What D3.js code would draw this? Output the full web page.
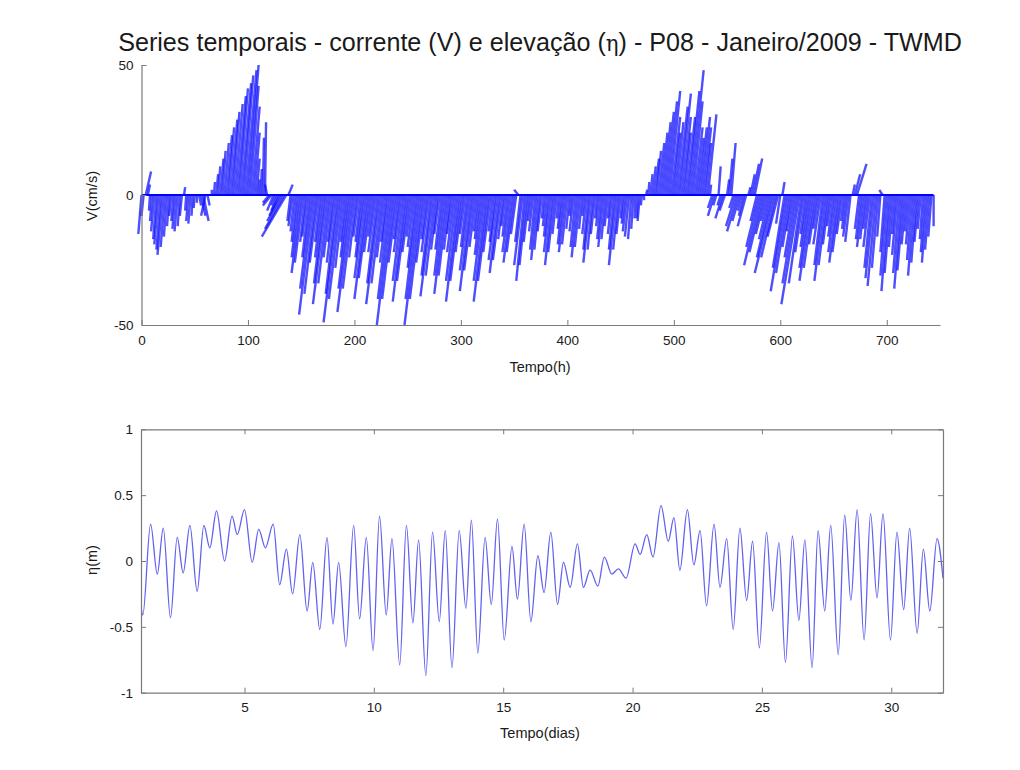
<!DOCTYPE html>
<html><head><meta charset="utf-8">
<script src="https://cdn.jsdelivr.net/npm/d3@7"></script>
<style>
body{margin:0;background:#fff;}
svg{display:block;}
text{font-family:"Liberation Sans",Arial,Helvetica,sans-serif;fill:#1a1a1a;}
</style>
</head><body>
<svg id="chart" width="1020" height="770"></svg>
<script>
// ---------- DATA ----------
const titleText = ["Series temporais - corrente (V) e elevação (", "η", ") - P08 - Janeiro/2009 - TWMD"];
const featherStartHour = 0;
const featherStepHours = 2;
// along-axis component (cm/s), one vector every 2 h from hour 0 to 744
const featherV = [
 -15,-8,9,4,-6,-10,-14,-17,-19,-21,
 -23,-20,-16,-12,-8,-10,-13,-14,-12,-8,
 3,-6,-10,-11,-8,-5,-3,-4,-8,-10,
 -8,-4,0,2,5,8,11,14,17,20,
 23,26,29,32,35,38,41,43,46,48,
 50,42,34,24,14,6,10,22,28,4,
 -3,-4,-6,-4,-6,-8,-10,-13,-16,4,
 -10,-12,-14,-18,-24,-30,-26,-18,-16,-24,
 -36,-46,-38,-26,-18,-24,-34,-42,-34,-24,
 -18,-26,-38,-49,-40,-28,-18,-24,-36,-45,
 -36,-24,-16,-18,-24,-32,-40,-32,-22,-16,
 -22,-34,-42,-34,-24,-18,-26,-40,-50,-40,
 -26,-17,-22,-33,-41,-33,-22,-16,-20,-28,
 -40,-50,-40,-26,-17,-22,-31,-39,-31,-21,
 -15,-21,-31,-38,-31,-21,-15,-22,-33,-41,
 -33,-22,-15,-20,-29,-37,-29,-20,-14,-17,
 -23,-33,-41,-33,-22,-14,-18,-25,-30,-25,
 -17,-12,-16,-22,-26,-22,-15,2,-18,-27,
 -33,-27,-18,-10,-14,-21,-25,-21,-14,-9,
 -12,-16,-22,-27,-22,-15,-9,-13,-19,-22,
 -19,-13,-8,-14,-20,-24,-20,-13,-8,-15,
 -21,-26,-21,-15,-9,-12,-17,-20,-17,-12,
 -9,-15,-21,-27,-21,-15,-9,-11,-14,-16,
 -17,-13,-9,-9,-10,-4,-2,2,5,8,
 11,14,17,20,24,28,32,36,40,30,
 24,28,34,39,30,24,30,40,48,36,
 26,22,26,30,26,20,31,4,-5,-8,
 -4,11,-4,-9,-6,6,14,20,-5,-12,
 -14,-10,-6,-8,-12,3,8,12,14,-10,
 -20,-27,-22,-15,-10,-17,-24,-30,-24,-16,
 -11,5,-28,-37,-30,-20,-14,-24,-34,-42,
 -34,-22,-15,-20,-28,-33,-28,-19,-13,-19,
 -27,-33,-27,-19,-12,-16,-22,-26,-22,-15,
 -10,-13,-16,-18,4,8,12,-13,-17,-20,
 -17,-13,-20,-28,-32,-35,-28,-16,2,-22,
 -31,-37,-30,-20,-15,-23,-30,-36,-29,-19,
 -14,-19,-25,-31,-26,-18,-13,-17,-22,-26,
 -21,-16,-12
];
// cross-axis component (cm/s) for the same vectors
const featherU = [
 -3,-2,5,2,-1,-2,-3,-3,-4,-4,
 -5,-4,-3,-2,-2,-2,-3,-3,-2,-2,
 1,-1,-2,-2,-1,-1,0,2,4,5,
 -4,2,0,0,1,2,2,3,3,4,
 5,5,6,6,7,8,8,9,9,10,
 10,8,7,5,3,1,1,1,1,-2,
 -6,-8,-6,-4,-6,-10,-14,-18,-23,4,
 -3,-4,-4,-5,-7,-9,-8,-5,-5,-7,
 -11,-14,-11,-8,-5,-7,-10,-13,-10,-7,
 -5,-8,-11,-15,-12,-8,-5,-7,-11,-14,
 -11,-7,-5,-5,-7,-10,-12,-10,-7,-5,
 -7,-10,-13,-10,-7,-5,-8,-12,-15,-12,
 -8,-5,-7,-10,-12,-10,-7,-5,-6,-8,
 -12,-15,-12,-8,-5,-7,-9,-12,-9,-6,
 -5,-6,-9,-11,-9,-6,-5,-7,-10,-12,
 -10,-7,-5,-6,-9,-11,-9,-6,-4,-5,
 -7,-10,-12,-10,-7,-4,-5,-8,-9,-8,
 -5,-4,-5,-7,-8,-7,-5,-4,-5,-8,
 -8,-7,-5,-3,-4,-5,-6,-5,-4,-2,
 -3,-4,-6,-7,-6,-4,-2,-3,-5,-6,
 -5,-3,-2,-4,-5,-6,-5,-3,-2,-4,
 -5,-7,-5,-4,-2,-3,-4,-5,-4,-3,
 -2,-4,-5,-7,-5,-4,-2,-3,-4,-4,
 -3,-2,-1,-1,-2,-1,0,1,1,2,
 3,4,4,5,6,7,8,9,10,8,
 6,7,9,10,8,6,8,10,12,9,
 7,6,7,8,7,5,8,1,-4,-6,
 -3,2,-3,-7,-5,2,3,4,-4,-9,
 -10,-7,-4,-5,-8,2,4,6,7,-6,
 -12,-16,-13,-9,-6,-10,-14,-18,-14,-10,
 -4,2,-11,-15,-12,-8,-6,-10,-14,-17,
 -12,-8,-5,-7,-10,-12,-10,-7,-5,-7,
 -8,-10,-8,-6,-4,-5,-7,-8,-7,-5,
 -3,-4,-5,-5,2,5,9,-4,-5,-6,
 -5,-4,-6,-7,-8,-8,-6,-3,-3,-4,
 -6,-7,-6,-4,-3,-5,-6,-7,-6,-4,
 -3,-4,-5,-6,-5,-4,-3,-3,-4,-5,
 -4,-3,0
];
const hourTicks = [0,100,200,300,400,500,600,700];
const vTicks = [-50,0,50];
const vTickLabels = ["-50","0","50"];

// surface elevation: turning points (day, metres)
const etaDays = [1.00,1.07,1.37,1.63,1.86,2.14,2.40,2.63,2.89,3.17,3.43,3.66,3.92,4.23,4.52,4.72,5.00,5.30,5.55,5.81,
 6.11,6.36,6.62,6.86,7.14,7.42,7.64,7.91,8.19,8.42,8.64,8.92,9.22,9.45,9.71,9.97,10.22,10.48,10.70,11.00,
 11.26,11.51,11.73,12.01,12.27,12.53,12.76,13.02,13.30,13.56,13.77,14.02,14.30,14.54,14.78,15.04,15.34,15.55,15.81,16.07,
 16.34,16.58,16.84,17.10,17.33,17.59,17.87,18.10,18.36,18.66,18.91,19.20,19.45,19.75,20.10,20.29,20.55,20.79,21.10,21.38,
 21.60,21.83,22.12,22.37,22.61,22.86,23.15,23.38,23.64,23.89,24.15,24.41,24.64,24.90,25.18,25.41,25.66,25.91,26.18,26.43,
 26.66,26.94,27.17,27.43,27.66,27.95,28.20,28.44,28.68,28.95,29.20,29.45,29.68,29.97,30.22,30.48,30.71,31.00,31.24,31.49,
 31.77,32.00];
const etaValues = [-0.35,-0.41,0.28,-0.10,0.25,-0.43,0.18,-0.09,0.27,-0.23,0.27,0.10,0.38,0.00,0.34,0.20,0.39,-0.01,0.24,0.10,
 0.28,-0.18,0.09,-0.25,0.20,-0.38,-0.01,-0.52,0.18,-0.48,-0.01,-0.65,0.27,-0.44,0.18,-0.68,0.34,-0.41,0.17,-0.79,
 0.27,-0.47,0.16,-0.87,0.22,-0.46,0.23,-0.81,0.23,-0.36,0.31,-0.70,0.18,-0.33,0.32,-0.60,0.11,-0.29,0.28,-0.46,
 0.04,-0.24,0.22,-0.33,-0.01,-0.20,0.13,-0.20,-0.07,-0.19,0.03,-0.10,-0.06,-0.13,0.13,0.05,0.20,0.03,0.42,0.15,
 0.33,-0.07,0.39,-0.03,0.23,-0.34,0.28,-0.20,0.17,-0.52,0.25,-0.30,0.15,-0.66,0.22,-0.38,0.14,-0.77,0.19,-0.45,
 0.16,-0.81,0.23,-0.38,0.27,-0.71,0.35,-0.30,0.39,-0.60,0.36,-0.28,0.36,-0.60,0.22,-0.37,0.25,-0.55,0.09,-0.38,
 0.17,-0.13];
const dayTicks = [5,10,15,20,25,30];
const etaTicks = [-1,-0.5,0,0.5,1];
const etaTickLabels = ["-1","-0.5","0","0.5","1"];

// ---------- DRAW ----------
const svg = d3.select("#chart");
svg.append("rect").attr("width",1020).attr("height",770).attr("fill","#fff");
const AX = "#7a7a7a";

function styleAxis(g){
  g.selectAll(".domain").attr("stroke",AX).attr("stroke-width",1.2);
  g.selectAll(".tick line").attr("stroke",AX).attr("stroke-width",1);
  g.selectAll(".tick text").attr("fill","#1a1a1a").style("font-size","13.5px")
    .style("font-family","'Liberation Sans',Arial,sans-serif");
}

// Title
const title = svg.append("text").attr("x",540).attr("y",51).attr("text-anchor","middle")
  .style("font-size","20px");
title.append("tspan").text(titleText[0]);
title.append("tspan").style("font-family","'DejaVu Serif','Liberation Serif',serif").style("font-size","17px").text(titleText[1]);
title.append("tspan").text(titleText[2]);
const tw = title.node().getComputedTextLength();
const targetW = 844;
title.style("font-size", (20*targetW/tw).toFixed(2)+"px");
title.select("tspan:nth-child(2)").style("font-size",(17*targetW/tw).toFixed(2)+"px");

// ---- Top panel: feather (stick) plot ----
const xH = d3.scaleLinear().domain([0,750]).range([141.5,940]);
const yV = d3.scaleLinear().domain([-50,50]).range([325,65]);

const feathers = featherV.map((v,i)=>({t: featherStartHour + i*featherStepHours, u: featherU[i], v}));
const fg = svg.append("g");
fg.selectAll("line.f").data(feathers).join("line").attr("class","f")
  .attr("x1", d=>xH(d.t)).attr("y1", yV(0))
  .attr("x2", d=>xH(d.t+d.u)).attr("y2", d=>yV(d.v))
  .attr("stroke","#0a0aff").attr("stroke-width",2.4).attr("stroke-opacity",0.72)
  .attr("stroke-linecap","butt");
fg.append("line").attr("x1",xH(0)).attr("x2",xH(featherStartHour+(featherV.length-1)*featherStepHours))
  .attr("y1",yV(0)).attr("y2",yV(0)).attr("stroke","#0000ff").attr("stroke-width",1.8);

const gxTop = svg.append("g").attr("transform",`translate(0,${yV(-50)})`)
  .call(d3.axisBottom(xH).tickValues(hourTicks).tickFormat(d3.format("d")).tickSizeInner(-5).tickSizeOuter(0).tickPadding(10));
styleAxis(gxTop);
const gyTop = svg.append("g").attr("transform",`translate(${xH(0)},0)`)
  .call(d3.axisLeft(yV).tickValues(vTicks).tickFormat((d,i)=>vTickLabels[i]).tickSizeInner(-5).tickSizeOuter(0).tickPadding(8));
styleAxis(gyTop);

svg.append("text").attr("x",540).attr("y",372).attr("text-anchor","middle").style("font-size","14.5px").text("Tempo(h)");
svg.append("text").attr("transform",`translate(97,196) rotate(-90)`).attr("text-anchor","middle").style("font-size","14.5px").text("V(cm/s)");

// ---- Bottom panel: elevation ----
const xD = d3.scaleLinear().domain([1,32]).range([141,943]);
const yE = d3.scaleLinear().domain([-1,1]).range([692.7,429.3]);

svg.append("defs").append("clipPath").attr("id","clipE").append("rect")
  .attr("x",xD(1)).attr("y",yE(1)).attr("width",xD(32)-xD(1)).attr("height",yE(-1)-yE(1));

const etaPts = etaDays.map((d,i)=>[d, etaValues[i]]);
svg.append("path").datum(etaPts)
  .attr("clip-path","url(#clipE)")
  .attr("d", d3.line().x(d=>xD(d[0])).y(d=>yE(d[1])).curve(d3.curveMonotoneX))
  .attr("fill","none").attr("stroke","#6262f0").attr("stroke-width",1.3);

const gxB = svg.append("g").attr("transform",`translate(0,${yE(-1)})`)
  .call(d3.axisBottom(xD).tickValues(dayTicks).tickFormat(d3.format("d")).tickSizeInner(-5).tickSizeOuter(0).tickPadding(10));
styleAxis(gxB);
const gxT = svg.append("g").attr("transform",`translate(0,${yE(1)})`)
  .call(d3.axisTop(xD).tickValues(dayTicks).tickFormat("").tickSizeInner(-5).tickSizeOuter(0));
styleAxis(gxT);
const gyL = svg.append("g").attr("transform",`translate(${xD(1)},0)`)
  .call(d3.axisLeft(yE).tickValues(etaTicks).tickFormat((d,i)=>etaTickLabels[i]).tickSizeInner(-5).tickSizeOuter(0).tickPadding(8));
styleAxis(gyL);
const gyR = svg.append("g").attr("transform",`translate(${xD(32)},0)`)
  .call(d3.axisRight(yE).tickValues(etaTicks).tickFormat("").tickSizeInner(-5).tickSizeOuter(0));
styleAxis(gyR);

svg.append("text").attr("x",540).attr("y",738).attr("text-anchor","middle").style("font-size","14.5px").text("Tempo(dias)");
svg.append("text").attr("transform",`translate(97,560) rotate(-90)`).attr("text-anchor","middle").style("font-size","14.5px").text("η(m)");
</script>
</body></html>
